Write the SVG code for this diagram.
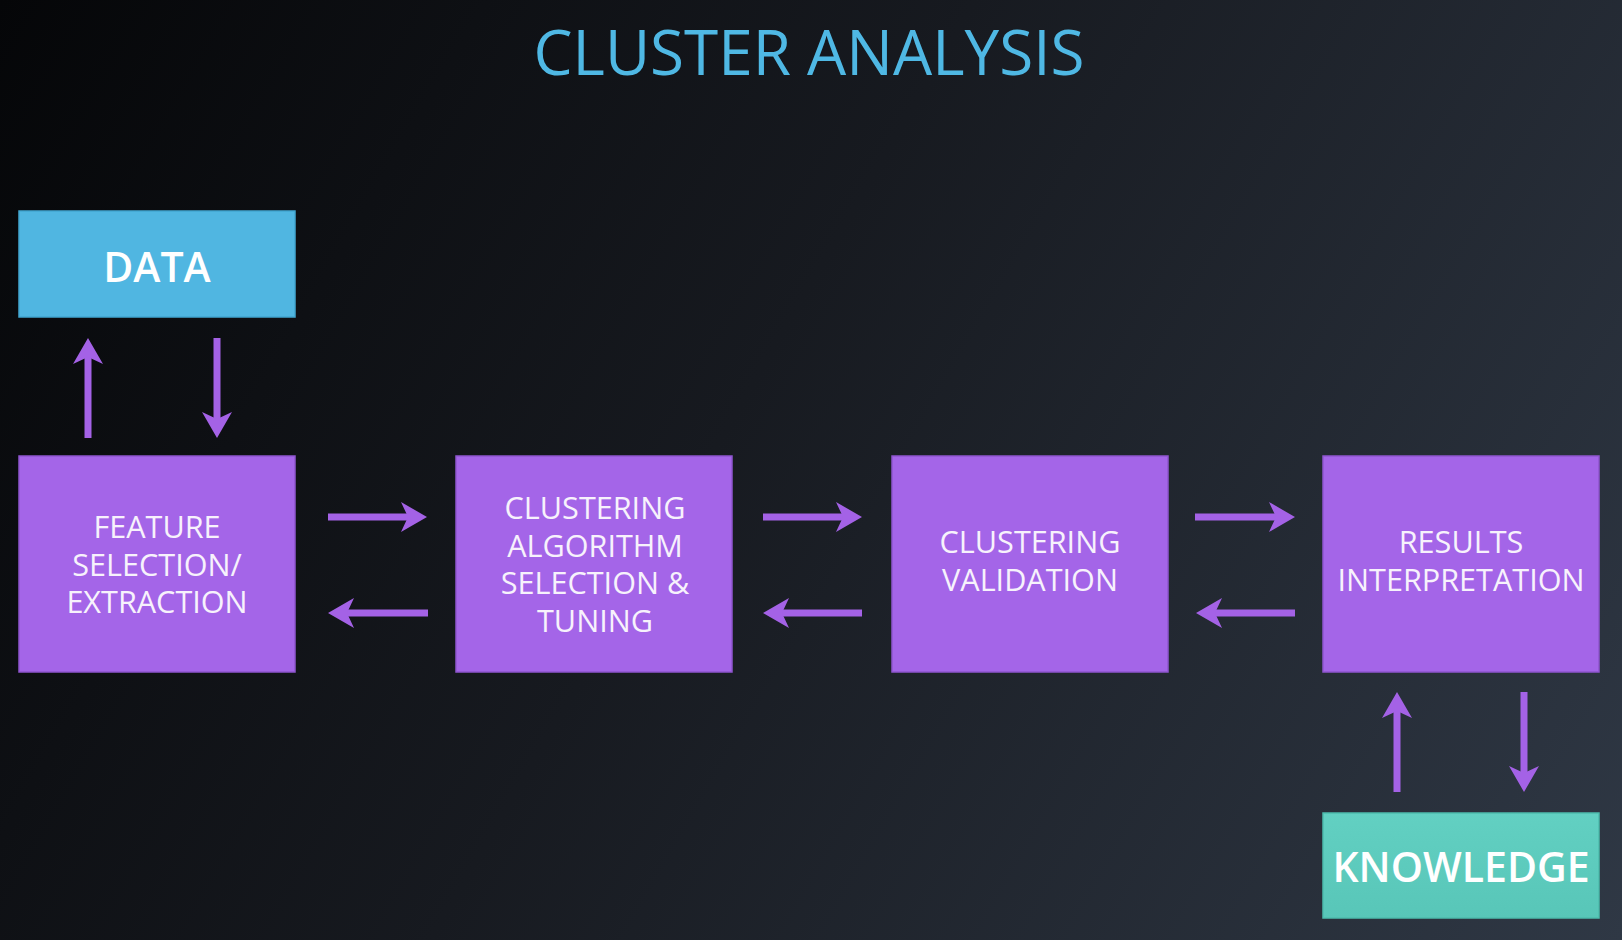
<svg xmlns="http://www.w3.org/2000/svg" width="1622" height="940" viewBox="0 0 1622 940">
  <defs>
    <linearGradient id="bg" x1="0" y1="0" x2="1622" y2="940" gradientUnits="userSpaceOnUse">
      <stop offset="0" stop-color="#050608"/>
      <stop offset="0.45" stop-color="#171a20"/>
      <stop offset="1" stop-color="#2f3845"/>
    </linearGradient>
    <linearGradient id="teal" x1="0" y1="0" x2="0" y2="1">
      <stop offset="0" stop-color="#62d0c2"/>
      <stop offset="1" stop-color="#58c6b8"/>
    </linearGradient>
    <marker id="ah" viewBox="0 0 26 30" refX="7" refY="15" markerWidth="26" markerHeight="30" markerUnits="userSpaceOnUse" orient="auto">
      <path d="M0,0 L26,15 L0,30 L7,15 Z" fill="#a462e6"/>
    </marker>
    <style>
      .box { fill: #a465e8; stroke: #8f55cf; stroke-width: 1.5; }
      .lbl { font-family: "Open Sans", "Liberation Sans", sans-serif; font-size: 30.6px; fill: #f7f2fc; text-anchor: middle; }
      .big { font-family: "Open Sans", "Liberation Sans", sans-serif; font-size: 41px; font-weight: 600; fill: #ffffff; text-anchor: middle; }
      .title { font-family: "Open Sans", "Liberation Sans", sans-serif; font-size: 62px; fill: #4fb8e4; text-anchor: middle; }
      .conn line { stroke: #a462e6; stroke-width: 7; fill: none; marker-end: url(#ah); }
    </style>
  </defs>
  <rect x="0" y="0" width="1622" height="940" fill="url(#bg)"/>

  <text class="title" x="809" y="75">CLUSTER ANALYSIS</text>

  <g id="data">
    <rect x="19" y="211" width="276" height="106" fill="#50b6e1" stroke="#41a6d1" stroke-width="1.5"/>
    <text class="big" x="157" y="282">DATA</text>
  </g>

  <g id="feature">
    <rect class="box" x="19" y="456" width="276" height="216"/>
    <text class="lbl" x="157" y="538">FEATURE</text>
    <text class="lbl" x="157" y="576">SELECTION/</text>
    <text class="lbl" x="157" y="613">EXTRACTION</text>
  </g>

  <g id="algorithm">
    <rect class="box" x="456" y="456" width="276" height="216"/>
    <text class="lbl" x="595" y="519">CLUSTERING</text>
    <text class="lbl" x="595" y="556.5">ALGORITHM</text>
    <text class="lbl" x="595" y="594">SELECTION &amp;</text>
    <text class="lbl" x="595" y="631.5">TUNING</text>
  </g>

  <g id="validation">
    <rect class="box" x="892" y="456" width="276" height="216"/>
    <text class="lbl" x="1030" y="553">CLUSTERING</text>
    <text class="lbl" x="1030" y="591">VALIDATION</text>
  </g>

  <g id="results">
    <rect class="box" x="1323" y="456" width="276" height="216"/>
    <text class="lbl" x="1461" y="553">RESULTS</text>
    <text class="lbl" x="1461" y="591">INTERPRETATION</text>
  </g>

  <g id="knowledge">
    <rect x="1323" y="813" width="276" height="105" fill="url(#teal)" stroke="#4cbcad" stroke-width="1.5"/>
    <text class="big" x="1461" y="882">KNOWLEDGE</text>
  </g>

  <g id="connectors" class="conn">
    <line x1="88" y1="438" x2="88" y2="357"/>
    <line x1="217" y1="338" x2="217" y2="419"/>
    <line x1="328" y1="517" x2="408" y2="517"/>
    <line x1="428" y1="613" x2="347" y2="613"/>
    <line x1="763" y1="517" x2="843" y2="517"/>
    <line x1="862" y1="613" x2="782" y2="613"/>
    <line x1="1195" y1="517" x2="1276" y2="517"/>
    <line x1="1295" y1="613" x2="1215" y2="613"/>
    <line x1="1397" y1="792" x2="1397" y2="711"/>
    <line x1="1524" y1="692" x2="1524" y2="773"/>
  </g>
</svg>
